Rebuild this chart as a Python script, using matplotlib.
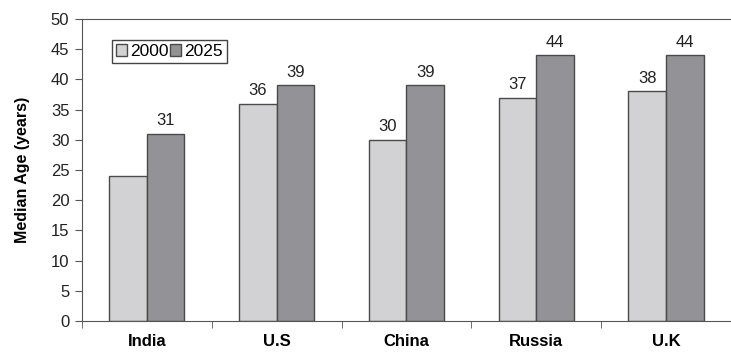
import numpy as np
import matplotlib.pyplot as plt

plt.rcParams['font.family'] = ['Liberation Sans', 'DejaVu Sans']

countries = ['India', 'U.S', 'China', 'Russia', 'U.K']
age_2000 = [24, 36, 30, 37, 38]
age_2025 = [31, 39, 39, 44, 44]
labels_2000 = ['', '36', '30', '37', '38']
labels_2025 = ['31', '39', '39', '44', '44']

fig = plt.figure(figsize=(7.31, 3.52), dpi=100)
ax = fig.add_axes([0.112, 0.088, 0.888, 0.858])

x = np.arange(len(countries))
w = 0.29
b1 = ax.bar(x - w / 2, age_2000, w, color='#d2d2d4', edgecolor='#4a4a4a', linewidth=1, label='2000')
b2 = ax.bar(x + w / 2, age_2025, w, color='#939397', edgecolor='#4a4a4a', linewidth=1, label='2025')

# 数值标注
ax.bar_label(b1, labels=labels_2000, padding=4, fontsize=12, color='#222222')
ax.bar_label(b2, labels=labels_2025, padding=4, fontsize=12, color='#222222')

ax.set_xlim(-0.5, 4.5)
ax.set_ylim(0, 50)
ax.set_yticks(range(0, 51, 5))
ax.set_xticks(x)
ax.set_xticklabels(countries, fontweight='bold', fontsize=12)
ax.set_xticks(np.arange(-0.5, 5, 1), minor=True)
ax.tick_params(axis='x', which='major', length=0, pad=9)
ax.tick_params(axis='x', which='minor', length=5, color='#555555')
ax.tick_params(axis='y', length=5, color='#555555', labelsize=12, labelcolor='#222222', pad=4)

ax.set_ylabel('Median Age (years)', fontweight='bold', fontsize=11.5, labelpad=15)

for s in ['left', 'bottom', 'top']:
    ax.spines[s].set_color('#555555')
ax.spines['right'].set_visible(False)

leg = ax.legend(loc='upper left', bbox_to_anchor=(0.033, 0.96), ncol=2, fancybox=False,
                handlelength=0.6, handleheight=0.6, handletextpad=0.2, columnspacing=0.1,
                borderpad=0.25, fontsize=12.5, framealpha=1)
leg.get_frame().set_edgecolor('#444444')
leg.get_frame().set_linewidth(1)

plt.savefig('out.png', dpi=100)
